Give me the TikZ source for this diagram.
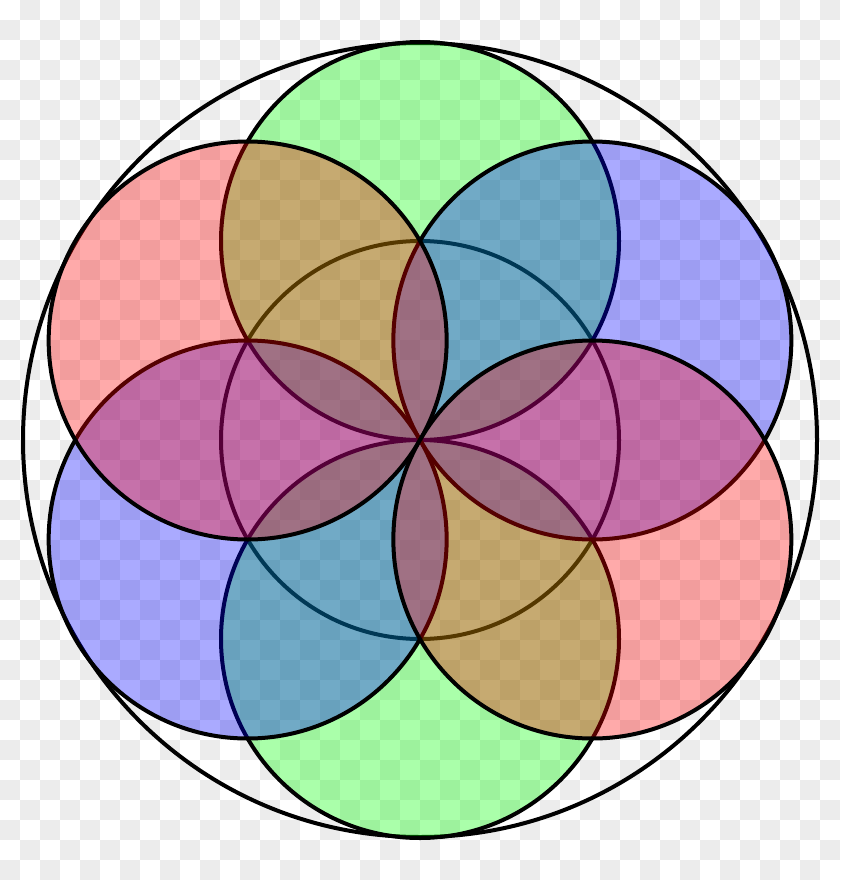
\documentclass[tikz,border=0pt]{standalone}
\usepackage{tikz}
\definecolor{checkgray}{RGB}{236,236,236}
\tikzset{
  petal/.style={line width=4pt, draw=black, fill opacity=0.3333},
  greenpetal/.style={petal, fill={rgb,255:red,0;green,255;blue,0}},
  bluepetal/.style={petal, fill={rgb,255:red,0;green,0;blue,255}},
  redpetal/.style={petal, fill={rgb,255:red,255;green,0;blue,0}},
  ring/.style={line width=4pt, draw=black}
}
\begin{document}
\begin{tikzpicture}[x=1pt,y=-1pt]
\useasboundingbox (0,0) rectangle (840,880);
% checkerboard background
\fill[white] (0,0) rectangle (840,880);
\foreach \j in {0,...,43}{
  \foreach \i in {0,...,41}{
    \pgfmathtruncatemacro{\cellpar}{mod(\i+\j,2)}
    \ifnum\cellpar=1
      \fill[checkgray] (20*\i,20*\j) rectangle ++(20,20);
    \fi
  }
}
% centres
\coordinate (O) at (420,440);
\coordinate (T) at (420,241);
\coordinate (B) at (420,639);
\coordinate (UL) at (247.66,340.5);
\coordinate (UR) at (592.34,340.5);
\coordinate (LL) at (247.66,539.5);
\coordinate (LR) at (592.34,539.5);
% outer circle and central circle
\draw[ring] (O) circle[radius=397];
\draw[ring] (O) circle[radius=199];
% petals
\draw[greenpetal] (T) circle[radius=199];
\draw[greenpetal] (B) circle[radius=199];
\draw[bluepetal] (UR) circle[radius=199];
\draw[bluepetal] (LL) circle[radius=199];
\draw[redpetal] (UL) circle[radius=199];
\draw[redpetal] (LR) circle[radius=199];
\end{tikzpicture}
\end{document}
